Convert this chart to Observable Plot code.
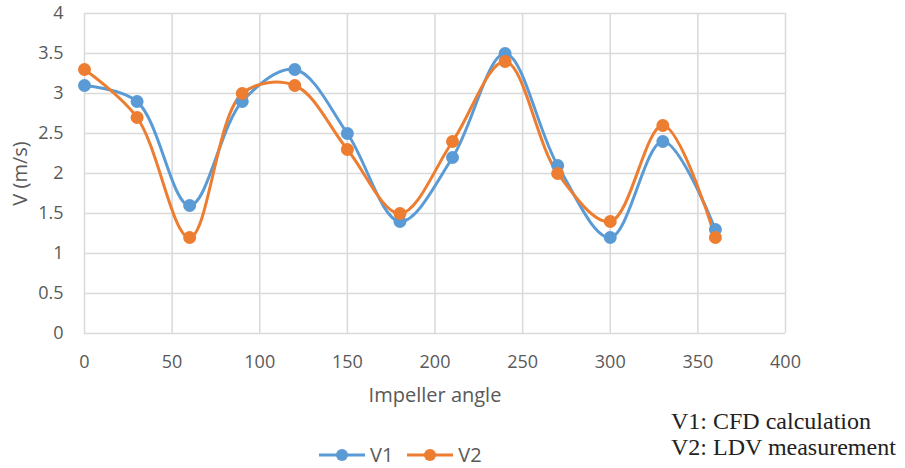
<!DOCTYPE html>
<html>
<head>
<meta charset="utf-8">
<script src="https://cdn.jsdelivr.net/npm/d3@7"></script>
<script src="https://cdn.jsdelivr.net/npm/@observablehq/plot@0.6"></script>
<style>
  body { margin: 0; background: #fff; width: 905px; height: 468px; position: relative; overflow: hidden; font-family: "Open Sans", sans-serif; }
  #chart { position: absolute; left: 0; top: 0; }
  #legend { position: absolute; left: 319px; top: 442px; display: flex; gap: 14px; font-size: 20px; line-height: 26px; color: #595959; align-items: center; }
  #legend .item { display: flex; align-items: center; gap: 5px; }
  #caption { position: absolute; left: 671px; top: 408px; font-family: "Liberation Serif", "Times New Roman", serif; font-size: 24px; line-height: 26px; color: #222; }
</style>
</head>
<body>
<div id="chart"></div>
<div id="caption">V1: CFD calculation<br>V2: LDV measurement</div>
<div id="legend"></div>
<script>
const angles = [0, 30, 60, 90, 120, 150, 180, 210, 240, 270, 300, 330, 360];
const v1 = [3.1, 2.9, 1.6, 2.9, 3.3, 2.5, 1.4, 2.2, 3.5, 2.1, 1.2, 2.4, 1.3];
const v2 = [3.3, 2.7, 1.2, 3.0, 3.1, 2.3, 1.5, 2.4, 3.4, 2.0, 1.4, 2.6, 1.2];
const seriesNames = ["V1", "V2"];
const seriesColors = ["#5b9bd5", "#ed7d31"];
const xTicks = [0, 50, 100, 150, 200, 250, 300, 350, 400];
const yTicks = [0, 0.5, 1, 1.5, 2, 2.5, 3, 3.5, 4];

const data = [];
[v1, v2].forEach((vals, s) => vals.forEach((v, i) => data.push({angle: angles[i], v, series: seriesNames[s]})));

const chart = Plot.plot({
  width: 905,
  height: 410,
  marginLeft: 84,
  marginRight: 120,
  marginTop: 13,
  marginBottom: 77,
  style: {fontFamily: "'Open Sans', sans-serif", fontSize: "18px", color: "#595959", background: "#fff"},
  x: {domain: [0, 400]},
  y: {domain: [0, 4]},
  color: {domain: seriesNames, range: seriesColors},
  marks: [
    Plot.gridX(xTicks, {stroke: "#d9d9d9", strokeOpacity: 1, strokeWidth: 1.5}),
    Plot.gridY(yTicks, {stroke: "#d9d9d9", strokeOpacity: 1, strokeWidth: 1.5}),
    Plot.axisX(xTicks, {tickSize: 0, tickPadding: 22, fontSize: 18, tickFormat: d => String(d), label: null}),
    Plot.axisY(yTicks, {tickSize: 0, tickPadding: 21, fontSize: 18, tickFormat: d => String(d), label: null}),
    Plot.axisX({ticks: [], label: "Impeller angle", labelAnchor: "center", labelOffset: 68, labelArrow: "none", fontSize: 20}),
    Plot.axisY({ticks: [], label: "V (m/s)", labelAnchor: "center", labelOffset: 72, labelArrow: "none", fontSize: 20}),
    Plot.lineY(data, {x: "angle", y: "v", stroke: "series", z: "series", curve: "catmull-rom", strokeWidth: 3}),
    Plot.dot(data, {x: "angle", y: "v", fill: "series", r: 6.5})
  ]
});
document.getElementById("chart").appendChild(chart);

const legend = document.getElementById("legend");
seriesNames.forEach((name, i) => {
  const item = document.createElement("div");
  item.className = "item";
  item.innerHTML = `<svg width="46" height="16"><line x1="0" y1="8" x2="46" y2="8" stroke="${seriesColors[i]}" stroke-width="3"/><circle cx="23" cy="8" r="6" fill="${seriesColors[i]}"/></svg><span>${name}</span>`;
  legend.appendChild(item);
});
</script>
</body>
</html>
